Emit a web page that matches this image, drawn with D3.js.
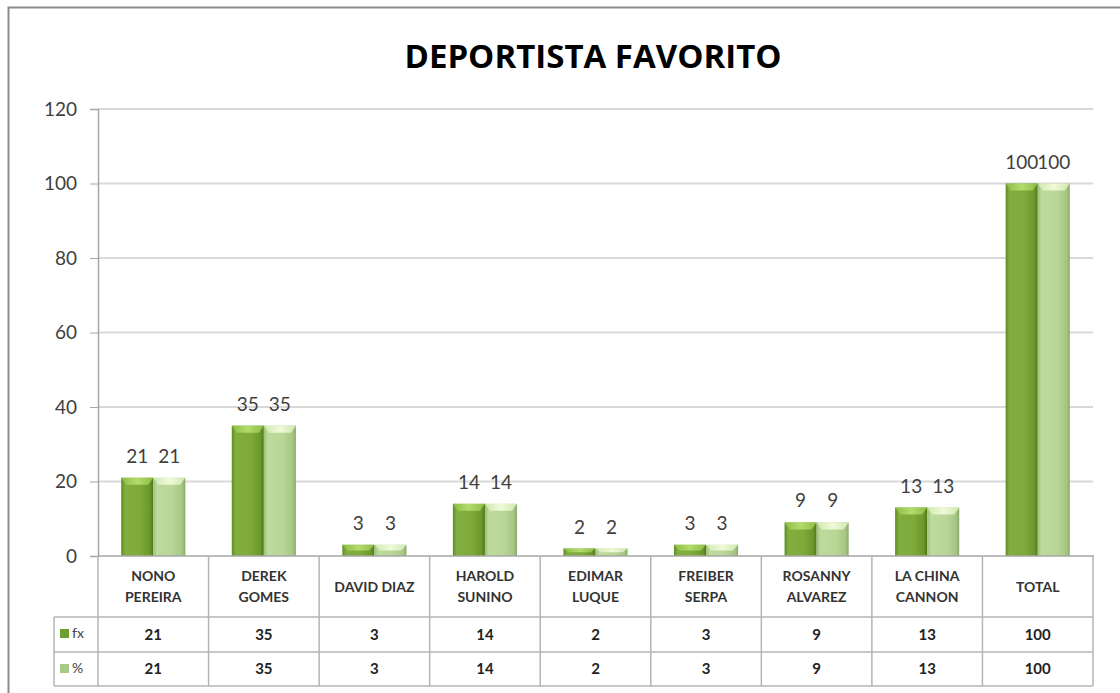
<!DOCTYPE html>
<html><head><meta charset="utf-8">
<script src="https://cdn.jsdelivr.net/npm/d3@7"></script>
<style>body{margin:0;background:#fff;}svg{display:block;}</style>
</head><body>
<script>
const categories = [["NONO","PEREIRA"],["DEREK","GOMES"],["DAVID DIAZ"],["HAROLD","SUNINO"],["EDIMAR","LUQUE"],["FREIBER","SERPA"],["ROSANNY","ALVAREZ"],["LA CHINA","CANNON"],["TOTAL"]];
const fx = [21,35,3,14,2,3,9,13,100];
const pct = [21,35,3,14,2,3,9,13,100];
const seriesNames = ["fx","%"];
const yTicks = [0,20,40,60,80,100,120];
const title = "DEPORTISTA FAVORITO";

const W=1120,H=693;
const svg=d3.select("body").append("svg").attr("width",W).attr("height",H);
const defs=svg.append("defs");
function grad(id,stops){const g=defs.append("linearGradient").attr("id",id).attr("x1","0").attr("x2","1").attr("y1","0").attr("y2","0");stops.forEach(s=>g.append("stop").attr("offset",s[0]).attr("stop-color",s[1]));}
grad("gDark",[[0,"#5e8c22"],[0.12,"#82ae40"],[0.6,"#7eaa3a"],[0.9,"#6a962c"],[1,"#4e7418"]]);
grad("gLight",[[0,"#9cbf78"],[0.12,"#bedb9e"],[0.6,"#b8d696"],[0.9,"#a6c684"],[1,"#88a86a"]]);
grad("gDarkTop",[[0,"#8cbc44"],[0.5,"#b4dc6c"],[1,"#8cbc44"]]);
grad("gLightTop",[[0,"#d0e8b0"],[0.5,"#f0fad8"],[1,"#d0e8b0"]]);

svg.append("rect").attr("x",8.5).attr("y",7.5).attr("width",1120).attr("height",700).attr("fill","none").attr("stroke","#8c8c8c").attr("stroke-width",2);

svg.append("text").attr("x",593).attr("y",68).attr("text-anchor","middle")
  .attr("font-family","'Open Sans',sans-serif").attr("font-weight","bold")
  .attr("font-size",33).attr("fill","#000").text(title);

const nf="Lato,'Open Sans',sans-serif";
const L=98,R=1093,T=109,B=556;
const x=d3.scaleBand().domain(d3.range(categories.length)).range([L,R]).padding(0);
const y=d3.scaleLinear().domain([0,120]).range([B,T]);
const bw=x.bandwidth()*0.29;

svg.append("g").selectAll("line").data(yTicks.filter(d=>d>0)).join("line")
  .attr("x1",L).attr("x2",R).attr("y1",d=>y(d)).attr("y2",d=>y(d))
  .attr("stroke","#d9d9d9").attr("stroke-width",2);

const ya=svg.append("g").attr("transform",`translate(${L},0)`).call(d3.axisLeft(y).tickValues(yTicks).tickSize(8).tickPadding(13));
ya.select(".domain").attr("stroke","#a6a6a6").attr("stroke-width",1.5);
ya.selectAll(".tick line").attr("stroke","#a6a6a6");
ya.selectAll("text").attr("font-family",nf).attr("font-size",19).attr("fill","#404040");

const series=[{name:seriesNames[0],vals:fx,fill:"url(#gDark)",top:"url(#gDarkTop)",off:-bw},{name:seriesNames[1],vals:pct,fill:"url(#gLight)",top:"url(#gLightTop)",off:0}];
series.forEach(s=>{
  const g=svg.append("g");
  const cx=i=>x(i)+x.bandwidth()/2+s.off;
  g.selectAll("rect.b").data(s.vals).join("rect").attr("class","b")
    .attr("x",(d,i)=>cx(i)).attr("y",d=>y(d)).attr("width",bw).attr("height",d=>B-y(d)).attr("fill",s.fill);
  g.selectAll("path.t").data(s.vals).join("path").attr("class","t")
    .attr("d",(d,i)=>{const x0=cx(i),y0=y(d),h=Math.min(7,(B-y(d))*0.5);return `M${x0},${y0}L${x0+bw},${y0}L${x0+bw-5},${y0+h}L${x0+5},${y0+h}Z`;})
    .attr("fill",s.top);
  g.selectAll("text").data(s.vals).join("text")
    .attr("x",(d,i)=>cx(i)+bw/2).attr("y",d=>y(d)-15).attr("text-anchor","middle")
    .attr("font-family",nf).attr("font-size",19).attr("fill","#404040").text(d=>d);
});
svg.append("line").attr("x1",L).attr("x2",R+1).attr("y1",B).attr("y2",B).attr("stroke","#a6a6a6").attr("stroke-width",1.5);

const r1=B,r2=617,r3=652,r4=686,TL=54;
const tg=svg.append("g").attr("stroke","#b4b4b4").attr("stroke-width",1.5);
x.domain().concat([categories.length]).forEach(i=>{
  const xx=i<categories.length?x(i):R;
  tg.append("line").attr("x1",xx).attr("x2",xx).attr("y1",r1).attr("y2",r4);
});
[r2,r3,r4].forEach(yy=>tg.append("line").attr("x1",TL).attr("x2",R).attr("y1",yy).attr("y2",yy));
tg.append("line").attr("x1",TL).attr("x2",TL).attr("y1",r2).attr("y2",r4);

const tf="Lato,'Open Sans',sans-serif";
const hg=svg.append("g");
categories.forEach((c,i)=>{
  const cx=x(i)+x.bandwidth()/2;
  const t=hg.append("text").attr("text-anchor","middle").attr("font-family",tf).attr("font-weight","bold").attr("font-size",14).attr("fill","#333");
  const cy=(r1+r2)/2+5;
  c.forEach((ln,k)=>t.append("tspan").attr("x",cx).attr("y",cy+(k-(c.length-1)/2)*21).text(ln));
});
[[fx,r2,r3],[pct,r3,r4]].forEach(([vals,a,b])=>{
  svg.append("g").selectAll("text").data(vals).join("text")
    .attr("x",(d,i)=>x(i)+x.bandwidth()/2).attr("y",(a+b)/2+5).attr("text-anchor","middle")
    .attr("font-family",tf).attr("font-weight","bold").attr("font-size",15).attr("fill","#222").text(d=>d);
});
[[seriesNames[0],"#6f9e2e",r2],[seriesNames[1],"#a9c988",r3]].forEach(([n,c,a])=>{
  const cy=a+17;
  svg.append("rect").attr("x",60).attr("y",cy-5).attr("width",9).attr("height",9).attr("fill",c);
  svg.append("text").attr("x",72).attr("y",cy+4).attr("font-family",tf).attr("font-size",14).attr("fill","#444").text(n);
});
</script>
</body></html>
